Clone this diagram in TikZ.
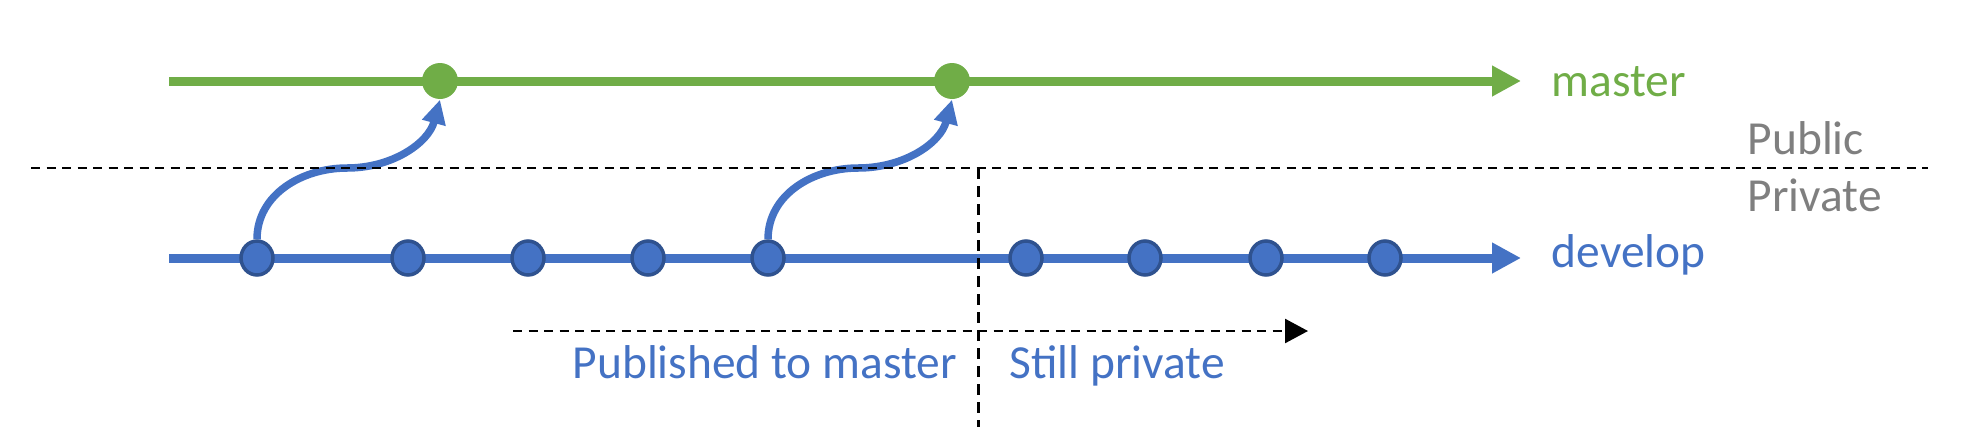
\documentclass[tikz,border=0pt]{standalone}
\usepackage{fontspec}
\setmainfont{Carlito}
\usetikzlibrary{arrows.meta,shapes.geometric}

\definecolor{mastergreen}{HTML}{70AD47}
\definecolor{devblue}{HTML}{4472C4}
\definecolor{commitedge}{HTML}{2F528F}
\definecolor{textgray}{HTML}{7F7F7F}

\begin{document}
\begin{tikzpicture}[
    branch/.style={line width=0.09cm,-{Triangle[length=0.29cm,width=0.29cm]}},
    commit/.style={ellipse,fill=devblue,draw=commitedge,line width=0.035cm,minimum width=0.32cm,minimum height=0.34cm,inner sep=0},
    release/.style={circle,fill=mastergreen,minimum size=0.36cm,inner sep=0},
    merge/.style={devblue,line width=0.075cm,-{Triangle[length=0.24cm,width=0.23cm]}},
    divider/.style={dash pattern=on 0.09cm off 0.065cm,line width=0.025cm},
    txt/.style={anchor=base west,inner sep=0,font=\fontsize{13.5}{16}\selectfont}
  ]
  \useasboundingbox (0,0) rectangle (19.70,4.44);

  % branches
  \coordinate (mstart) at (1.69,3.63);
  \coordinate (mend) at (15.21,3.63);
  \coordinate (dstart) at (1.69,1.86);
  \coordinate (dend) at (15.21,1.86);
  \draw[branch,mastergreen] (mstart) -- (mend);
  \draw[branch,devblue] (dstart) -- (dend);

  % commits
  \node[release] (m1) at (4.40,3.63) {};
  \node[release] (m2) at (9.52,3.63) {};
  \foreach \x [count=\i] in {2.57,4.08,5.28,6.48,7.68,10.26,11.45,12.66,13.85}
    \node[commit] (d\i) at (\x,1.86) {};

  % merges into master
  \coordinate (b1) at (3.47,2.76);
  \coordinate (b2) at (8.58,2.76);
  \draw[merge] (d1.north) to[out=90,in=180] (b1) to[out=0,in=-105] (m1.south);
  \draw[merge] (d5.north) to[out=90,in=180] (b2) to[out=0,in=-105] (m2.south);

  % public / private
  \coordinate (hleft) at (0.31,2.76);
  \coordinate (hright) at (19.28,2.76);
  \coordinate (vtop) at (9.78,2.76);
  \coordinate (vbottom) at (9.78,0.17);
  \coordinate (pstart) at (5.13,1.13);
  \coordinate (pend) at (13.08,1.13);
  \draw[divider] (hleft) -- (hright);
  \draw[divider,line width=0.03cm,dash pattern=on 0.11cm off 0.07cm] (vtop) -- (vbottom);
  \draw[divider,-{Triangle[length=0.23cm,width=0.24cm]}] (pstart) -- (pend);

  % labels
  \node[txt,mastergreen] (mlabel) at (15.51,3.48) {master};
  \node[txt,devblue] (dlabel) at (15.51,1.77) {develop};
  \node[txt,textgray] (public) at (17.47,2.90) {Public};
  \node[txt,textgray] (private) at (17.47,2.33) {Private};
  \node[txt,devblue] (published) at (5.72,0.66) {Published to master};
  \node[txt,devblue] (stillpriv) at (10.09,0.66) {Still private};
\end{tikzpicture}
\end{document}
